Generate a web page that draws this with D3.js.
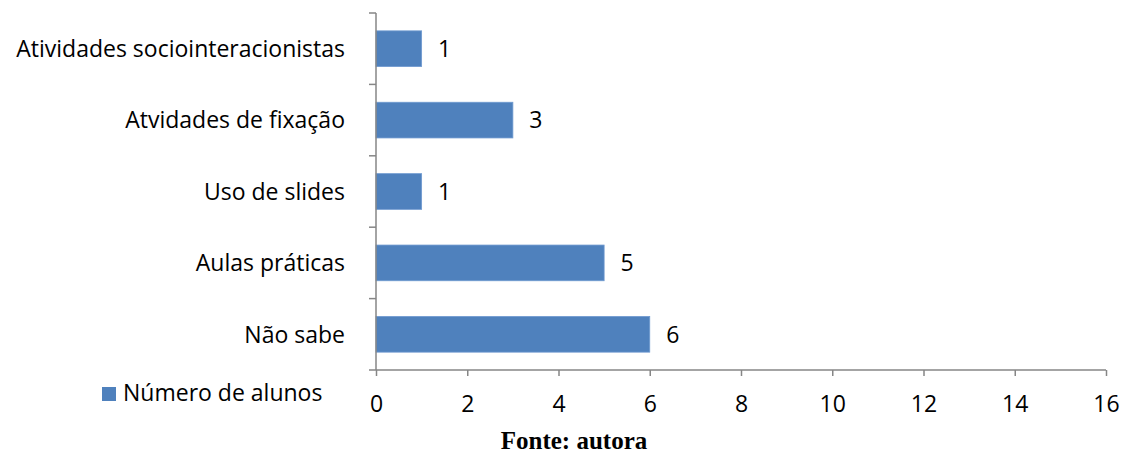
<!DOCTYPE html>
<html>
<head>
<meta charset="utf-8">
<script src="https://cdn.jsdelivr.net/npm/d3@7"></script>
<style>
  html, body { margin: 0; padding: 0; background: #fff; }
  svg { display: block; }
</style>
</head>
<body>
<svg id="chart" width="1128" height="455"></svg>
<script>
// Categories from bottom to top as they appear on the vertical axis
const categories = ["Não sabe", "Aulas práticas", "Uso de slides", "Atvidades de fixação", "Atividades sociointeracionistas"];
const values = [6, 5, 1, 3, 1];
const xTicks = [0, 2, 4, 6, 8, 10, 12, 14, 16];
const seriesName = "Número de alunos";
const sourceNote = "Fonte: autora";

const svg = d3.select("#chart");
const font = "'Open Sans', sans-serif";
const fontSize = 23;
const barColor = "#4F81BD";
const axisColor = "#868686";

const plot = { left: 376, right: 1106, top: 13, bottom: 370 };

const x = d3.scaleLinear().domain([0, 16]).range([plot.left, plot.right]);
const y = d3.scaleBand()
  .domain(categories.slice().reverse())
  .range([plot.top, plot.bottom])
  .paddingInner(0.5)
  .paddingOuter(0.25);

// Bars
svg.append("g").selectAll("rect")
  .data(categories)
  .join("rect")
  .attr("x", x(0))
  .attr("y", d => y(d))
  .attr("width", (d, i) => x(values[i]) - x(0))
  .attr("height", y.bandwidth())
  .attr("fill", barColor)
  .attr("stroke", "#6f9ad0")
  .attr("stroke-width", 0.8);

// Value labels
svg.append("g").selectAll("text")
  .data(categories)
  .join("text")
  .attr("x", (d, i) => x(values[i]) + 23)
  .attr("y", d => y(d) + y.bandwidth() / 2)
  .attr("dy", "0.36em")
  .attr("text-anchor", "middle")
  .attr("font-family", font)
  .attr("font-size", fontSize)
  .attr("fill", "#000")
  .text((d, i) => values[i]);

// X axis
const xAxis = svg.append("g")
  .attr("transform", `translate(0,${plot.bottom})`)
  .call(d3.axisBottom(x).tickValues(xTicks).tickSize(6).tickPadding(28).tickFormat(d3.format("d")));
xAxis.select(".domain").attr("stroke", axisColor).attr("stroke-width", 1.5)
  .attr("d", `M${plot.left},0H${plot.right}`);
xAxis.selectAll(".tick line").attr("stroke", axisColor).attr("stroke-width", 1.5);
xAxis.selectAll(".tick text")
  .attr("font-family", font).attr("font-size", fontSize).attr("fill", "#000")
  .attr("dy", "0.36em");

// Y axis: ticks sit on band boundaries
const yAxisG = svg.append("g");
yAxisG.append("line")
  .attr("x1", plot.left).attr("x2", plot.left)
  .attr("y1", plot.top).attr("y2", plot.bottom)
  .attr("stroke", axisColor).attr("stroke-width", 1.5);
const step = (plot.bottom - plot.top) / categories.length;
const boundaries = d3.range(categories.length + 1).map(i => plot.top + i * step);
yAxisG.selectAll("line.tk")
  .data(boundaries)
  .join("line")
  .attr("class", "tk")
  .attr("x1", plot.left - 7).attr("x2", plot.left)
  .attr("y1", d => d).attr("y2", d => d)
  .attr("stroke", axisColor).attr("stroke-width", 1.5);

// Category labels
yAxisG.selectAll("text")
  .data(categories)
  .join("text")
  .attr("x", 345)
  .attr("y", d => y(d) + y.bandwidth() / 2)
  .attr("dy", "0.36em")
  .attr("text-anchor", "end")
  .attr("font-family", font)
  .attr("font-size", fontSize)
  .attr("fill", "#000")
  .text(d => d);

// Legend
const legend = svg.append("g");
legend.append("rect")
  .attr("x", 102).attr("y", 387).attr("width", 14).attr("height", 14)
  .attr("fill", barColor);
legend.append("text")
  .attr("x", 123).attr("y", 393)
  .attr("dy", "0.36em")
  .attr("font-family", font)
  .attr("font-size", fontSize)
  .attr("fill", "#000")
  .text(seriesName);

// Source note
svg.append("text")
  .attr("x", 574).attr("y", 449)
  .attr("text-anchor", "middle")
  .attr("font-family", "'Liberation Serif', 'Times New Roman', serif")
  .attr("font-weight", "bold")
  .attr("font-size", 25)
  .attr("fill", "#000")
  .text(sourceNote);
</script>
</body>
</html>
